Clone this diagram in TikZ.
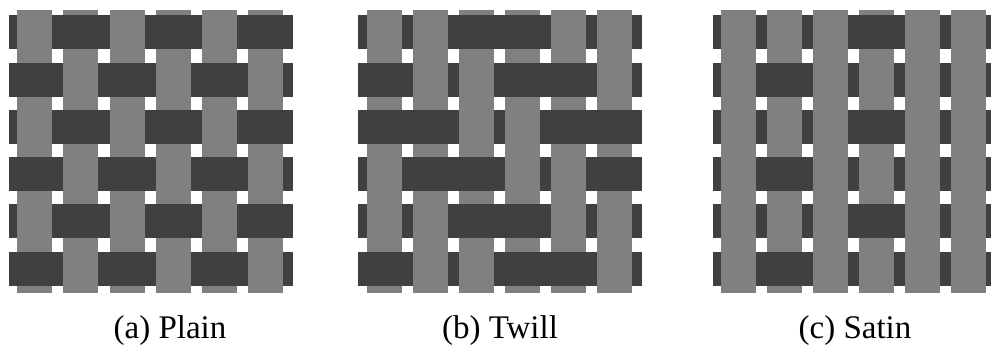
\documentclass[tikz,border=0pt]{standalone}
\usepackage{fontspec}
\setmainfont{Liberation Serif}
\definecolor{warpc}{RGB}{128,128,128}
\definecolor{weftc}{RGB}{64,64,64}
\newcommand\drawweave[2]{%
  \foreach \r in {1,...,6}
    \fill[weftbar] ({#1-25.8},{32.5+\py*(\r-1)-17}) rectangle ({#1+258},{32.5+\py*(\r-1)+17});
  \foreach \c in {1,...,6}
    \fill[warpbar] ({#1+\px*(\c-1)-17.5},10) rectangle ({#1+\px*(\c-1)+17.5},293.3);
  \foreach \r/\c in {#2}
    \fill[weftbar] ({#1+\px*(\c-1)-17.6},{32.5+\py*(\r-1)-17}) rectangle ({#1+\px*(\c-1)+17.6},{32.5+\py*(\r-1)+17});
}
\begin{document}
\begin{tikzpicture}[x=1pt,y=-1pt,
  warpbar/.style={fill=warpc,draw=none},
  weftbar/.style={fill=weftc,draw=none},
  caption/.style={font=\fontsize{33}{40}\selectfont,anchor=base,inner sep=0pt}]
\def\px{46.1}\def\py{47.2}
\useasboundingbox (0,0) rectangle (991,345);
\drawweave{34.8}{1/2,1/4,1/6,2/1,2/3,2/5,3/2,3/4,3/6,4/1,4/3,4/5,5/2,5/4,5/6,6/1,6/3,6/5}
\drawweave{384.2}{1/3,1/4,2/1,2/4,2/5,3/1,3/2,3/5,3/6,4/2,4/3,4/6,5/3,5/4,6/1,6/4,6/5}
\drawweave{738.3}{1/4,2/2,3/4,4/2,5/4,6/2}
\node[caption] (capa) at (170,338) {(a) Plain};
\node[caption] (capb) at (500,338) {(b) Twill};
\node[caption] (capc) at (855,338) {(c) Satin};
\end{tikzpicture}
\end{document}
